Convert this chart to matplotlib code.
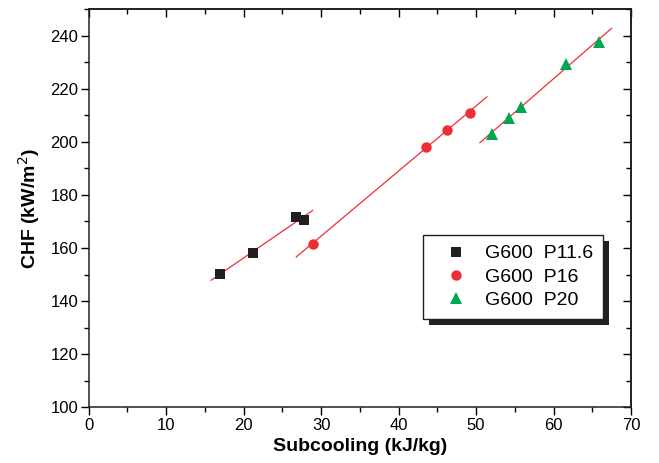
import numpy as np
import matplotlib
matplotlib.use("Agg")
import matplotlib.pyplot as plt
from matplotlib.ticker import MultipleLocator
from matplotlib.patches import Rectangle

plt.rcParams['font.family'] = ['Liberation Sans', 'DejaVu Sans']

# Data
x_p116 = [16.9, 21.2, 26.8, 27.8]
y_p116 = [150.3, 158.0, 171.5, 170.7]
x_p16 = [28.9, 43.5, 46.3, 49.2]
y_p16 = [161.6, 198.2, 204.5, 211.0]
x_p20 = [52.0, 54.3, 55.8, 61.6, 65.9]
y_p20 = [203.1, 209.1, 213.1, 229.4, 237.6]
labels = ["G600  P11.6", "G600  P16", "G600  P20"]
# x extent of each linear fit line
fit_range_p116 = [15.8, 28.9]
fit_range_p16 = [26.8, 51.4]
fit_range_p20 = [50.5, 67.5]

c_black = "#231f20"
c_red = "#ee2e34"
c_green = "#00a651"

fig = plt.figure(figsize=(6.59, 4.63), dpi=100)
ax = fig.add_axes([88.7/659, (463-407.3)/463, (631-88.7)/659, (407.3-9)/463])

series = [
    (x_p116, y_p116, fit_range_p116, 's', c_black, 6.5),
    (x_p16, y_p16, fit_range_p16, 'o', c_red, 7.5),
    (x_p20, y_p20, fit_range_p20, '^', c_green, 8),
]
handles = []
for (xs, ys, fr, mk, col, ms), lab in zip(series, labels):
    h, = ax.plot(xs, ys, linestyle='none', marker=mk, color=col, ms=ms,
                 markeredgewidth=0, label=lab, zorder=3)
    handles.append(h)
    k, b = np.polyfit(xs, ys, 1)
    fx = np.array(fr)
    ax.plot(fx, k*fx + b, color=c_red, lw=0.9, zorder=2)

ax.set_xlim(0, 70)
ax.set_ylim(100, 250)
ax.xaxis.set_major_locator(MultipleLocator(10))
ax.xaxis.set_minor_locator(MultipleLocator(5))
ax.yaxis.set_major_locator(MultipleLocator(20))
ax.yaxis.set_minor_locator(MultipleLocator(10))
ax.set_yticks(np.arange(100, 241, 20))
ax.tick_params(which='major', direction='out', length=5.5, width=1, labelsize=12, pad=2)
ax.tick_params(which='minor', direction='out', length=3.5, width=1)
for s in ax.spines.values():
    s.set_linewidth(1.1)
    s.set_color('#231f20')

secx = ax.secondary_xaxis('top')
secx.xaxis.set_major_locator(MultipleLocator(10))
secx.xaxis.set_minor_locator(MultipleLocator(5))
secx.tick_params(which='major', direction='in', length=5.5, width=1, labeltop=False)
secx.tick_params(which='minor', direction='in', length=3.5, width=1)
secy = ax.secondary_yaxis('right')
secy.yaxis.set_major_locator(MultipleLocator(20))
secy.yaxis.set_minor_locator(MultipleLocator(10))
secy.tick_params(which='major', direction='in', length=5.5, width=1, labelright=False)
secy.tick_params(which='minor', direction='in', length=3.5, width=1)
for sa in (secx, secy):
    for s in sa.spines.values():
        s.set_linewidth(1.1)

ax.set_xlabel("Subcooling (kJ/kg)", fontsize=14, fontweight='bold', labelpad=4)
ax.set_ylabel("CHF (kW/m$^2$)", fontsize=14, fontweight='bold', labelpad=6)

leg = ax.legend(handles=handles, loc='upper left', bbox_to_anchor=(0.616, 0.4326),
                borderaxespad=0, fontsize=14, frameon=True, fancybox=False,
                edgecolor='#231f20', facecolor='white', framealpha=1,
                handlelength=2.4, handletextpad=0.3,
                labelspacing=0.3, borderpad=0.5, numpoints=1)
leg.get_frame().set_linewidth(1.0)
leg.set_zorder(5)

fig.canvas.draw()
bb = leg.get_window_extent().transformed(ax.transAxes.inverted())
off_x = 6 / (631 - 88.7)
off_y = 6 / (407.3 - 9)
shadow = Rectangle((bb.x0 + off_x, bb.y0 - off_y), bb.width, bb.height,
                   transform=ax.transAxes, facecolor='#231f20', edgecolor='none', zorder=4)
ax.add_patch(shadow)

fig.savefig("out.png", dpi=100)
